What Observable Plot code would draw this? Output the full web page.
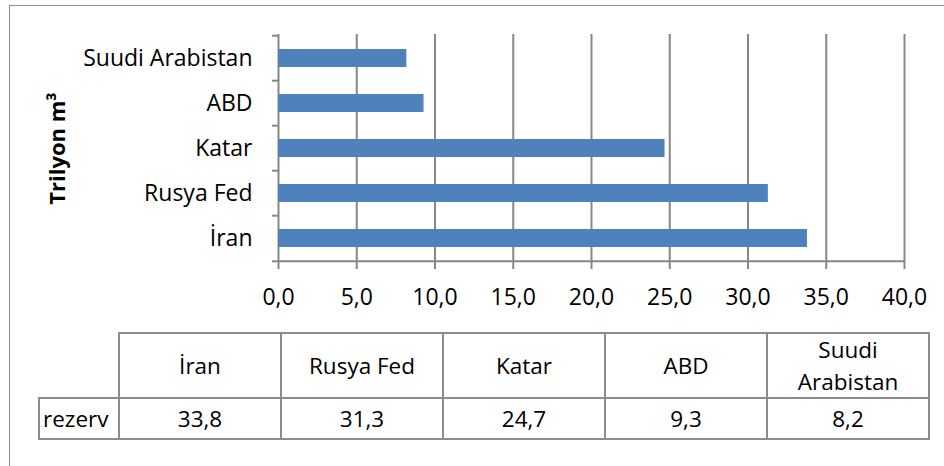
<!DOCTYPE html>
<html><head><meta charset="utf-8">
<script src="https://cdn.jsdelivr.net/npm/d3@7"></script>
<script src="https://cdn.jsdelivr.net/npm/@observablehq/plot@0.6"></script>
<style>
html,body{margin:0;padding:0;background:#fff;width:944px;height:466px;overflow:hidden;}
#frame{position:absolute;left:9px;top:5px;width:1000px;height:1000px;border:1.5px solid #8c8c8c;box-sizing:border-box;}
#chart{position:absolute;left:0;top:0;}
#tbl{position:absolute;left:38px;top:332px;border-collapse:collapse;table-layout:fixed;width:890px;font-family:"Open Sans",sans-serif;font-size:22.5px;color:#000;}
#tbl td{border:2px solid #8c8c8c;text-align:center;padding:0 8px;line-height:1.4;}
#tbl td.corner{border-top:none;border-left:none;}
#tbl td.rl{text-align:left;padding-left:3px;padding-right:0;}
#tbl tr.h td{height:62px;}
#tbl tr.v td{height:39px;}
</style></head><body>
<div id="frame"></div>
<div id="chart"></div>
<table id="tbl"><colgroup><col style="width:80px"><col style="width:162px"><col style="width:162px"><col style="width:162px"><col style="width:162px"><col style="width:162px"></colgroup></table>
<script>
const categories = ["İran", "Rusya Fed", "Katar", "ABD", "Suudi Arabistan"];
const values = [33.8, 31.3, 24.7, 9.3, 8.2];
const xTicks = [0, 5, 10, 15, 20, 25, 30, 35, 40];
const yTitle = "Trilyon m³";
const rowLabel = "rezerv";

const fmt = d => d.toFixed(1).replace(".", ",");
const data = categories.map((c, i) => ({country: c, value: values[i]}));

const W = 944, H = 320, mT = 34, mB = 58, mL = 278, mR = 40;
const step = (H - mT - mB) / categories.length;
const grey = "#878787";

const chart = Plot.plot({
  width: W, height: H,
  marginTop: mT, marginBottom: mB, marginLeft: mL, marginRight: mR,
  style: {fontFamily: "'Open Sans', sans-serif", fontSize: "23px", color: "#000", background: "transparent"},
  x: {domain: [0, 40]},
  y: {domain: [...categories].reverse(), paddingInner: 0.6, paddingOuter: 0.3},
  marks: [
    Plot.ruleX(xTicks, {stroke: grey, strokeWidth: 2}),
    Plot.ruleY([categories[0]], {dy: step / 2, stroke: grey, strokeWidth: 2}),
    Plot.ruleY(categories, {dy: -step / 2, x1: 0, x2: 0, insetLeft: -6, stroke: grey, strokeWidth: 2}),
    Plot.ruleY([categories[0]], {dy: step / 2, x1: 0, x2: 0, insetLeft: -6, stroke: grey, strokeWidth: 2}),
    Plot.barX(data, {x: "value", y: "country", fill: "#4f81bd"}),
    Plot.axisX({ticks: xTicks, tickFormat: fmt, tickSize: 7, tickPadding: 19, stroke: grey, strokeWidth: 2, fill: "#000", label: null}),
    Plot.axisY({tickSize: 0, tickPadding: 26, fill: "#000", label: null}),
    Plot.text([yTitle], {text: d => d, frameAnchor: "left", dx: -221, rotate: -90, textAnchor: "middle", lineAnchor: "middle", fontWeight: "bold", fontSize: 22, fill: "#000"})
  ]
});
document.getElementById("chart").appendChild(chart);

const tbl = d3.select("#tbl");
const hr = tbl.append("tr").attr("class", "h");
hr.append("td").attr("class", "corner");
categories.forEach(c => hr.append("td").text(c));
const vr = tbl.append("tr").attr("class", "v");
vr.append("td").attr("class", "rl").text(rowLabel);
values.forEach(v => vr.append("td").text(fmt(v)));
</script>
</body></html>
